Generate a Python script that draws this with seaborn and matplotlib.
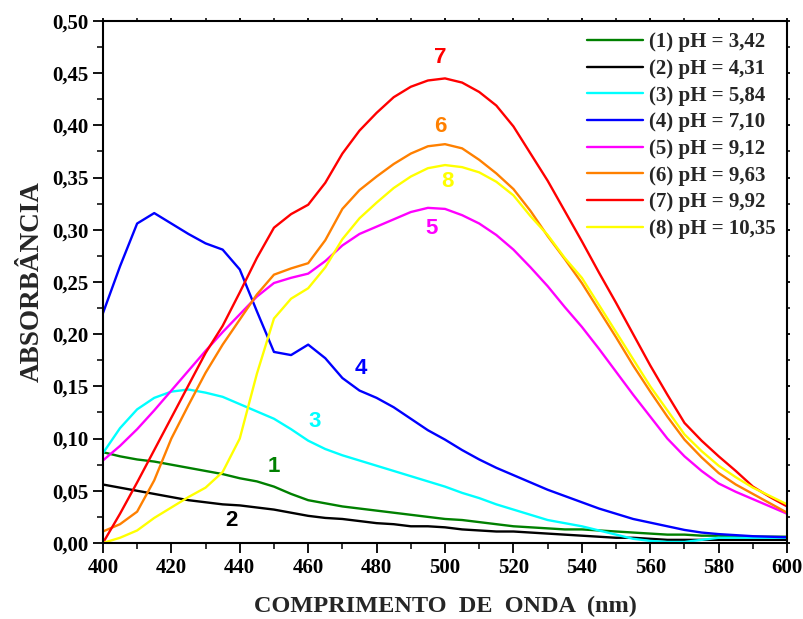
import numpy as np
import pandas as pd
import matplotlib
matplotlib.use("Agg")
import matplotlib.pyplot as plt
import seaborn as sns
from matplotlib.ticker import MultipleLocator, FuncFormatter

wavelength = list(range(400, 601, 5))

s1_ph342 = [0.087, 0.083, 0.080, 0.078, 0.075, 0.072, 0.069, 0.066, 0.062, 0.059,
            0.054, 0.047, 0.041, 0.038, 0.035, 0.033, 0.031, 0.029, 0.027, 0.025,
            0.023, 0.022, 0.020, 0.018, 0.016, 0.015, 0.014, 0.013, 0.013, 0.012,
            0.011, 0.010, 0.009, 0.008, 0.008, 0.007, 0.007, 0.006, 0.006, 0.006, 0.006]
s2_ph431 = [0.056, 0.053, 0.050, 0.047, 0.044, 0.041, 0.039, 0.037, 0.036, 0.034,
            0.032, 0.029, 0.026, 0.024, 0.023, 0.021, 0.019, 0.018, 0.016, 0.016,
            0.015, 0.013, 0.012, 0.011, 0.011, 0.010, 0.009, 0.008, 0.007, 0.006,
            0.005, 0.005, 0.004, 0.003, 0.003, 0.003, 0.003, 0.003, 0.003, 0.003, 0.003]
s3_ph584 = [0.086, 0.110, 0.128, 0.139, 0.145, 0.147, 0.144, 0.140, 0.133, 0.126,
            0.119, 0.109, 0.098, 0.090, 0.084, 0.079, 0.074, 0.069, 0.064, 0.059,
            0.054, 0.048, 0.043, 0.037, 0.032, 0.027, 0.022, 0.019, 0.016, 0.012,
            0.008, 0.004, 0.002, 0.001, 0.001, 0.003, 0.005, 0.005, 0.005, 0.005, 0.005]
s4_ph710 = [0.220, 0.265, 0.306, 0.316, 0.306, 0.296, 0.287, 0.281, 0.262, 0.222,
            0.183, 0.180, 0.190, 0.177, 0.158, 0.146, 0.139, 0.130, 0.119, 0.108,
            0.099, 0.089, 0.080, 0.072, 0.065, 0.058, 0.051, 0.045, 0.039, 0.033,
            0.028, 0.023, 0.0195, 0.016, 0.0125, 0.010, 0.0085, 0.0075, 0.0065, 0.006, 0.0055]
s5_ph912 = [0.079, 0.093, 0.109, 0.127, 0.146, 0.165, 0.184, 0.202, 0.219, 0.236,
            0.249, 0.254, 0.258, 0.270, 0.285, 0.296, 0.303, 0.310, 0.317, 0.321,
            0.320, 0.314, 0.306, 0.295, 0.281, 0.264, 0.246, 0.226, 0.207, 0.186,
            0.164, 0.142, 0.121, 0.100, 0.083, 0.069, 0.057, 0.049, 0.042, 0.035, 0.028]
s6_ph963 = [0.011, 0.018, 0.030, 0.060, 0.100, 0.132, 0.163, 0.190, 0.214, 0.238,
            0.257, 0.263, 0.268, 0.290, 0.320, 0.338, 0.351, 0.363, 0.373, 0.380,
            0.382, 0.378, 0.367, 0.354, 0.339, 0.318, 0.294, 0.272, 0.249, 0.223,
            0.197, 0.170, 0.145, 0.121, 0.099, 0.082, 0.067, 0.056, 0.047, 0.038, 0.029]
s7_ph992 = [0.000, 0.028, 0.058, 0.089, 0.120, 0.151, 0.182, 0.208, 0.240, 0.273,
            0.302, 0.315, 0.324, 0.345, 0.373, 0.395, 0.412, 0.427, 0.437, 0.443,
            0.445, 0.441, 0.432, 0.419, 0.399, 0.373, 0.347, 0.318, 0.289, 0.259,
            0.230, 0.200, 0.170, 0.142, 0.115, 0.098, 0.083, 0.069, 0.054, 0.044, 0.035]
s8_ph1035 = [0.000, 0.005, 0.012, 0.024, 0.034, 0.044, 0.053, 0.068, 0.100, 0.162,
             0.215, 0.234, 0.244, 0.264, 0.291, 0.311, 0.326, 0.340, 0.351, 0.359,
             0.362, 0.360, 0.355, 0.346, 0.333, 0.313, 0.295, 0.273, 0.254, 0.228,
             0.202, 0.176, 0.150, 0.127, 0.104, 0.088, 0.074, 0.063, 0.053, 0.045, 0.037]

series_labels = ["(1) pH = 3,42", "(2) pH = 4,31", "(3) pH = 5,84", "(4) pH = 7,10",
                 "(5) pH = 9,12", "(6) pH = 9,63", "(7) pH = 9,92", "(8) pH = 10,35"]
series_values = [s1_ph342, s2_ph431, s3_ph584, s4_ph710, s5_ph912, s6_ph963, s7_ph992, s8_ph1035]
colors = ["#008000", "#000000", "#00FFFF", "#0000FF", "#FF00FF", "#FF8000", "#FF0000", "#FFFF00"]

curve_tags = ["7", "6", "8", "5", "4", "3", "1", "2"]
tag_x = [498.5, 498.5, 500.6, 496.2, 475.4, 462.0, 450.0, 437.7]
tag_y = [0.4655, 0.3985, 0.3458, 0.3017, 0.1676, 0.1159, 0.0728, 0.0220]
tag_colors = ["#FF0000", "#FF8000", "#FFFF00", "#FF00FF", "#0000FF", "#00FFFF", "#008000", "#000000"]

rows = []
for lab, vals in zip(series_labels, series_values):
    for w, v in zip(wavelength, vals):
        rows.append({"nm": w, "abs": v, "serie": lab})
df = pd.DataFrame(rows)

sns.set_theme(style="ticks")
plt.rcParams['font.family'] = ['Liberation Serif', 'DejaVu Serif']

fig = plt.figure(figsize=(8.04, 6.19), dpi=100)
ax = fig.add_axes([0.128, 0.1228, 0.851, 0.8433])

sns.lineplot(data=df, x="nm", y="abs", hue="serie", hue_order=series_labels,
             palette=colors, linewidth=1.7, ax=ax, legend=True)

ax.set_xlim(400, 600)
ax.set_ylim(0, 0.5)
ax.xaxis.set_major_locator(MultipleLocator(20))
ax.xaxis.set_minor_locator(MultipleLocator(10))
ax.yaxis.set_major_locator(MultipleLocator(0.05))
ax.yaxis.set_minor_locator(MultipleLocator(0.025))
ax.yaxis.set_major_formatter(FuncFormatter(lambda v, p: f"{v:.2f}".replace(".", ",")))
ax.tick_params(axis="both", which="major", direction="out", length=7, width=1.3,
               labelsize=15, color="black", labelcolor="black")
ax.tick_params(axis="both", which="minor", direction="out", length=4, width=1.1,
               color="black")
ax.tick_params(axis="both", which="both", top=True, right=True)
for t in ax.xaxis.get_major_ticks() + ax.xaxis.get_minor_ticks():
    t.tick2line.set_markersize(2.5)
for t in ax.yaxis.get_major_ticks() + ax.yaxis.get_minor_ticks():
    t.tick2line.set_markersize(2.5)
for lbl in ax.get_xticklabels() + ax.get_yticklabels():
    lbl.set_fontweight("bold")
for sp in ax.spines.values():
    sp.set_visible(True)
    sp.set_linewidth(1.5)
    sp.set_color("black")

ax.set_xlabel("COMPRIMENTO  DE  ONDA  (nm)", fontsize=17.5, fontweight="bold", labelpad=13)
ax.set_ylabel("ABSORBÂNCIA", fontsize=19.5, fontweight="bold", labelpad=5)

leg = ax.legend(loc="upper right", frameon=False, handlelength=2.7,
                handletextpad=0.3, labelspacing=0.32, borderaxespad=0.15,
                prop={"weight": "bold", "size": 15})
for line in leg.get_lines():
    line.set_linewidth(1.7)

for t, x, y, c in zip(curve_tags, tag_x, tag_y, tag_colors):
    ax.text(x, y, t, color=c, fontsize=16, fontweight="bold", ha="center", va="center",
            family=["Liberation Sans", "DejaVu Sans"])

fig.savefig("out.png", dpi=100)
